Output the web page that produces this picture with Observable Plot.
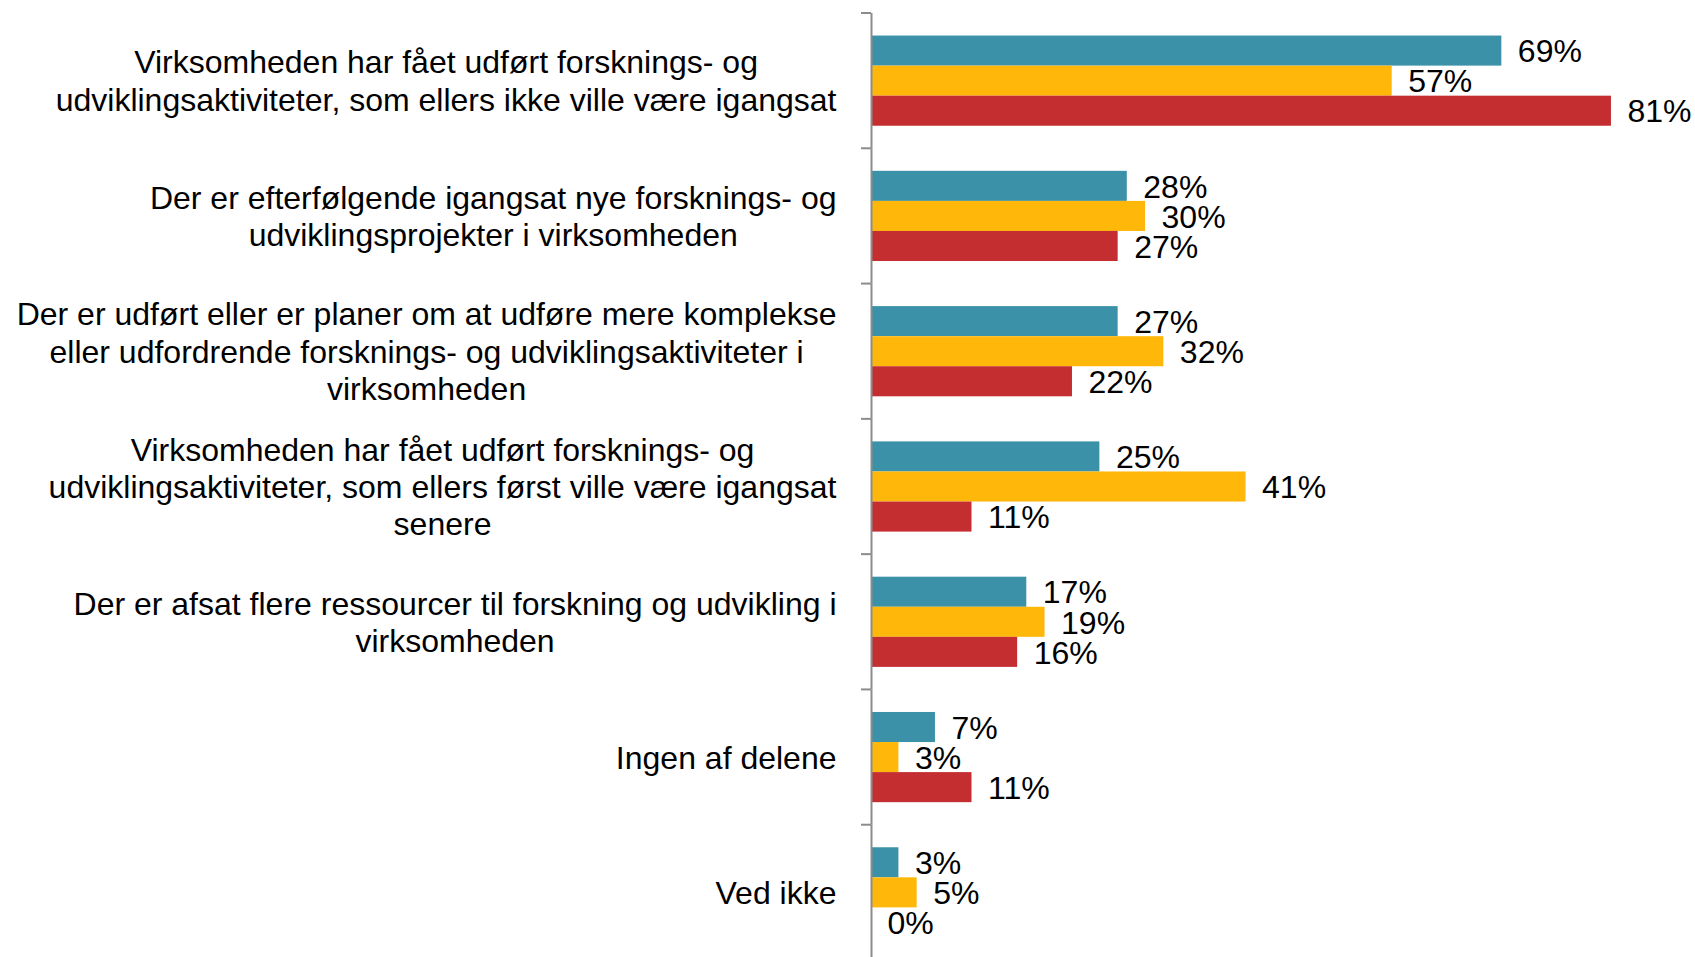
<!DOCTYPE html>
<html><head><meta charset="utf-8">
<script src="https://cdn.jsdelivr.net/npm/d3@7"></script>
<script src="https://cdn.jsdelivr.net/npm/@observablehq/plot@0.6"></script>
<style>html,body{margin:0;padding:0;background:#fff;overflow:hidden;}</style>
</head><body><div id="chart"></div>
<script>
const categories = [
  "Virksomheden har fået udført forsknings- og\nudviklingsaktiviteter, som ellers ikke ville være igangsat",
  "Der er efterfølgende igangsat nye forsknings- og\nudviklingsprojekter i virksomheden",
  "Der er udført eller er planer om at udføre mere komplekse\neller udfordrende forsknings- og udviklingsaktiviteter i\nvirksomheden",
  "Virksomheden har fået udført forsknings- og\nudviklingsaktiviteter, som ellers først ville være igangsat\nsenere",
  "Der er afsat flere ressourcer til forskning og udvikling i\nvirksomheden",
  "Ingen af delene",
  "Ved ikke"
];
const series = ["Serie 1", "Serie 2", "Serie 3"];
const serie1 = [69, 28, 27, 25, 17, 7, 3];
const serie2 = [57, 30, 32, 41, 19, 3, 5];
const serie3 = [81, 27, 22, 11, 16, 11, 0];
const colors = ["#3a91a8", "#ffb80a", "#c42e30"];

const values = [serie1, serie2, serie3];
const data = [];
categories.forEach((c, i) => series.forEach((s, j) => data.push({category: c, series: s, value: values[j][i]})));

const font = "'Liberation Sans', Arial, sans-serif";
const plot = Plot.plot({
  width: 1695, height: 957,
  marginLeft: 871, marginRight: 0, marginTop: 13, marginBottom: -3,
  style: {fontFamily: font, background: "white", overflow: "visible"},
  x: {domain: [0, 90.2], axis: null},
  y: {domain: series, axis: null, paddingInner: 0, paddingOuter: 0.75, round: false},
  fy: {domain: categories, axis: null, padding: 0, round: false},
  color: {domain: series, range: colors},
  marks: [
    Plot.barX(data, {fy: "category", y: "series", x: "value", fill: "series"}),
    Plot.text(data, {fy: "category", y: "series", x: "value", text: d => d.value + "%", dx: 16, dy: 1, textAnchor: "start", fontSize: 32, fill: "black"}),
    Plot.ruleX([0], {stroke: "#8c8c8c", strokeWidth: 2}),
    Plot.text(categories, {fy: d => d, x: d => 0, text: d => d, dx: -35, dy: -1, textAnchor: "end", lineHeight: 1.17, fontSize: 32, fill: "black", ariaLabel: () => "category-label"})
  ]
});
document.getElementById("chart").append(plot);

const svg = d3.select(plot);
const fy = plot.scale("fy"), xs = plot.scale("x");
const x0 = xs.apply(0);
const tg = svg.append("g").attr("stroke", "#8c8c8c").attr("stroke-width", 2);
categories.forEach(c => {
  const y0 = fy.apply(c);
  tg.append("line").attr("x1", x0 - 10).attr("x2", x0).attr("y1", y0).attr("y2", y0);
});
svg.selectAll('text[aria-label="category-label"]').each(function() {
  const w = this.getBBox().width;
  this.setAttribute("text-anchor", "middle");
  const t = this.getAttribute("transform") || "";
  this.setAttribute("transform", t + ` translate(${-w / 2},0)`);
});
</script>
</body></html>
